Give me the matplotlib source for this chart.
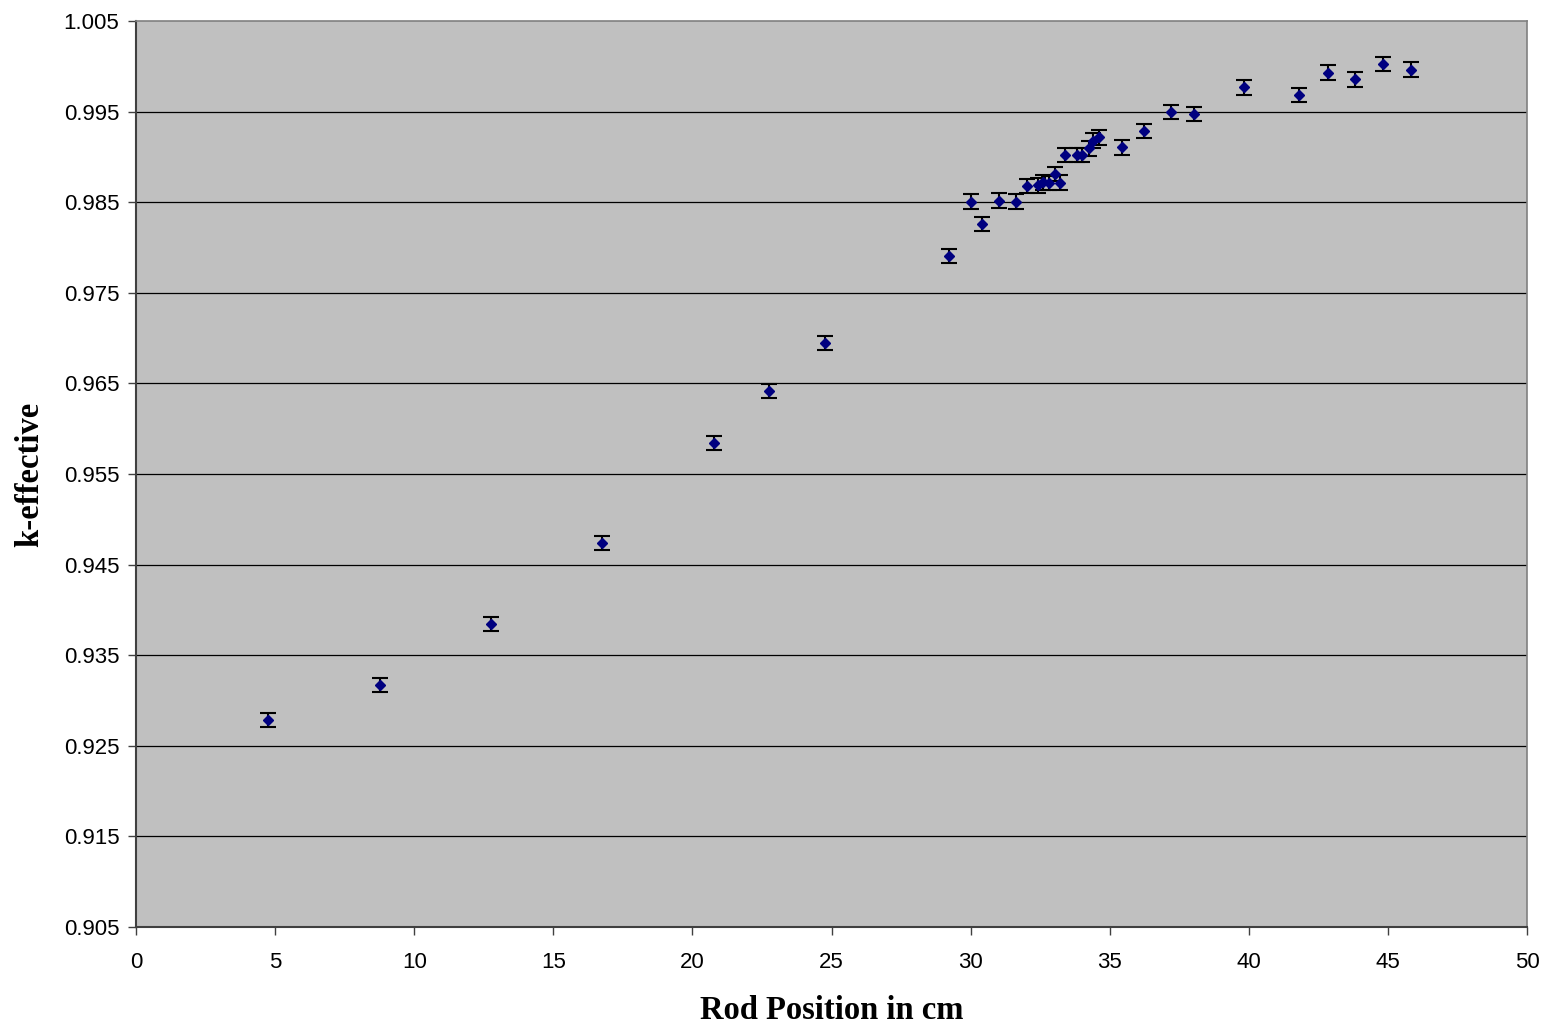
import matplotlib.pyplot as plt
import numpy as np

# rod position (cm) and k-effective
rod_pos = [4.75, 8.77, 12.76, 16.75, 20.78, 22.75, 24.77,
           29.22, 30.02, 30.42, 31.02, 31.63, 32.01, 32.43, 32.61, 32.82,
           33.03, 33.22, 33.41, 33.83, 34.02, 34.24, 34.41, 34.62, 35.43,
           36.23, 37.22, 38.03, 39.83, 41.82, 42.83, 43.83, 44.82, 45.84]
k_eff = [0.92785, 0.93171, 0.93844, 0.94738, 0.95842, 0.96416, 0.96946,
         0.97906, 0.98506, 0.98260, 0.98517, 0.98506, 0.98679, 0.98687, 0.98720, 0.98710,
         0.98811, 0.98715, 0.99021, 0.99020, 0.99020, 0.99095, 0.99179, 0.99216, 0.99106,
         0.99286, 0.99496, 0.99473, 0.99768, 0.99683, 0.99929, 0.99856, 1.00025, 0.99963]
k_err = [0.0008] * len(k_eff)

x_ticks = np.arange(0, 51, 5)
y_ticks = [0.905, 0.915, 0.925, 0.935, 0.945, 0.955, 0.965, 0.975, 0.985, 0.995, 1.005]

fig = plt.figure(figsize=(15.47, 10.25), dpi=100)
ax = fig.add_axes([0.0879, 0.0956, 0.8992, 0.8839])
ax.set_facecolor('#c0c0c0')

for yv in y_ticks[1:-1]:
    ax.axhline(yv, color='black', linewidth=0.9, zorder=1)

ax.errorbar(rod_pos, k_eff, yerr=k_err, fmt='D', color='#000080',
            markersize=5.5, ecolor='black', elinewidth=1.5, capsize=5.5,
            capthick=1.5, zorder=3)

ax.set_xlim(0, 50)
ax.set_ylim(0.905, 1.005)
ax.set_xticks(x_ticks)
ax.set_yticks(y_ticks)
ax.set_yticklabels([f'{v:.3f}' for v in y_ticks])
ax.tick_params(axis='both', direction='out', length=6, width=1, color='#404040',
               labelsize=16)
ax.tick_params(axis='x', pad=12)
ax.tick_params(axis='y', pad=6)
for lab in ax.get_xticklabels() + ax.get_yticklabels():
    lab.set_fontfamily('Liberation Sans')

for side in ['left', 'bottom']:
    ax.spines[side].set_color('#404040')
    ax.spines[side].set_linewidth(1.5)
for side in ['top', 'right']:
    ax.spines[side].set_color('#808080')
    ax.spines[side].set_linewidth(1.2)

ax.set_xlabel('Rod Position in cm', fontfamily='Liberation Serif', fontweight='bold',
              fontsize=23.5, labelpad=16)
ax.set_ylabel('k-effective', fontfamily='Liberation Serif', fontweight='bold',
              fontsize=23.5, labelpad=13)

fig.savefig('out.png', dpi=100)
